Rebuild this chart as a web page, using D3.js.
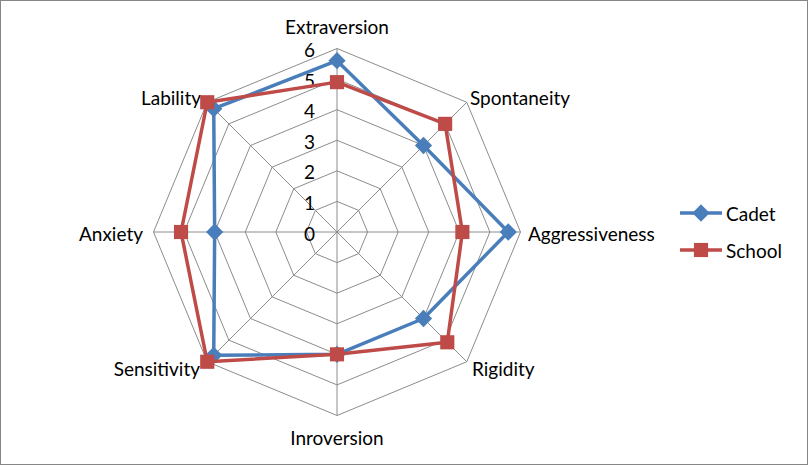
<!DOCTYPE html>
<html>
<head>
<meta charset="utf-8">
<script src="https://cdn.jsdelivr.net/npm/d3@7"></script>
<style>
  html, body { margin: 0; padding: 0; background: #fff; }
  svg { display: block; font-family: Lato, "Open Sans", sans-serif; }
</style>
</head>
<body>
<svg id="chart" width="808" height="465"></svg>
<script>
/* radar chart — two series, 8 axes, 0..6 */

const axes = ['Extraversion', 'Spontaneity', 'Aggressiveness', 'Rigidity',
              'Inroversion', 'Sensitivity', 'Anxiety', 'Lability'];
const cadet = [5.6, 4, 5.6, 4, 4, 5.7, 4, 5.7];
const school = [4.9, 5, 4.1, 5.1, 4, 6, 5.1, 6];
const ticks = [0, 1, 2, 3, 4, 5, 6];
const seriesNames = ['Cadet', 'School'];

const svg = d3.select('#chart');
const W = 808, H = 465;
const cx = 337, cy = 232, R = 183.5;
const FS = 19;

svg.append('rect')
  .attr('x', 0.5).attr('y', 0.5)
  .attr('width', W - 1).attr('height', H - 1)
  .attr('fill', '#fff').attr('stroke', '#868686');

const r = d3.scaleLinear().domain([0, 6]).range([0, R]);
const ang = d3.scaleLinear().domain([0, axes.length]).range([0, 2 * Math.PI]);
const pt = (i, v) => [cx + r(v) * Math.sin(ang(i)), cy - r(v) * Math.cos(ang(i))];

// ─── grid ───
const grid = svg.append('g').attr('stroke', '#8c8c8c').attr('fill', 'none').attr('stroke-width', 1);
ticks.slice(1).forEach(t => {
  grid.append('polygon')
    .attr('points', axes.map((_, i) => pt(i, t).join(',')).join(' '));
});
axes.forEach((_, i) => {
  const [x, y] = pt(i, 6);
  grid.append('line').attr('x1', cx).attr('y1', cy).attr('x2', x).attr('y2', y);
});

// tick labels
svg.append('g').selectAll('text')
  .data(ticks).enter().append('text')
  .attr('x', cx - 22).attr('y', d => cy - r(d) + 1)
  .attr('text-anchor', 'end').attr('dominant-baseline', 'central')
  .attr('font-size', FS).attr('fill', '#000')
  .text(d => d);

// axis labels
const labelPos = [
  { dx: 0, dy: -206, anchor: 'middle' },
  { dx: 133, dy: -135, anchor: 'start' },
  { dx: 191, dy: 1, anchor: 'start' },
  { dx: 135, dy: 136, anchor: 'start' },
  { dx: 0, dy: 205, anchor: 'middle' },
  { dx: -137, dy: 136, anchor: 'end' },
  { dx: -194, dy: 1, anchor: 'end' },
  { dx: -136, dy: -135, anchor: 'end' },
];
svg.append('g').selectAll('text')
  .data(axes).enter().append('text')
  .attr('x', (d, i) => cx + labelPos[i].dx)
  .attr('y', (d, i) => cy + labelPos[i].dy)
  .attr('text-anchor', (d, i) => labelPos[i].anchor)
  .attr('dominant-baseline', 'central')
  .attr('font-size', FS).attr('fill', '#000')
  .text(d => d);

// ─── series ───
const colors = ['#4a7ebb', '#be4b48'];
const line = d3.line().curve(d3.curveLinearClosed);
const diamond = d3.symbol().type(d3.symbolDiamond2).size(190);
const square = d3.symbol().type(d3.symbolSquare).size(200);
const shapes = [diamond, square];

[cadet, school].forEach((vals, s) => {
  const g = svg.append('g');
  g.append('path')
    .attr('d', line(vals.map((v, i) => pt(i, v))))
    .attr('fill', 'none').attr('stroke', colors[s])
    .attr('stroke-width', 3.5).attr('stroke-linejoin', 'round');
  g.selectAll('path.m').data(vals).enter().append('path')
    .attr('class', 'm')
    .attr('d', shapes[s])
    .attr('transform', (v, i) => `translate(${pt(i, v)})`)
    .attr('fill', colors[s]);
});

// ─── legend ───
const legend = svg.append('g');
seriesNames.forEach((name, s) => {
  const y = 213 + s * 37;
  legend.append('line')
    .attr('x1', 680).attr('x2', 722).attr('y1', y).attr('y2', y)
    .attr('stroke', colors[s]).attr('stroke-width', 3.5);
  legend.append('path')
    .attr('d', shapes[s])
    .attr('transform', `translate(701,${y})`)
    .attr('fill', colors[s]);
  legend.append('text')
    .attr('x', 726).attr('y', y)
    .attr('dominant-baseline', 'central')
    .attr('font-size', FS).attr('fill', '#000')
    .text(name);
});
</script>
</body>
</html>
